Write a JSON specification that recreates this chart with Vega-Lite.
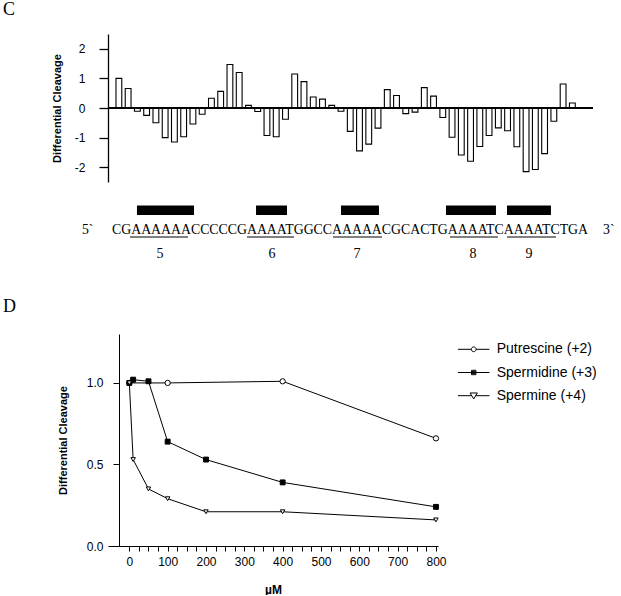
{
  "$schema": "https://vega.github.io/schema/vega-lite/v6.json",
  "background": "white",
  "padding": {"left": 3, "top": 1, "right": 0, "bottom": 0},
  "spacing": 18,
  "resolve": {
    "scale": {"shape": "independent", "fill": "independent", "size": "independent"},
    "legend": {"shape": "independent", "fill": "independent", "size": "independent"}
  },
  "config": {
    "view": {"stroke": null},
    "font": "Liberation Sans",
    "axis": {"domainColor": "black", "tickColor": "black", "labelColor": "black", "titleColor": "black", "grid": false, "labelFont": "Liberation Sans", "titleFont": "Liberation Sans", "labelOverlap": false},
    "title": {"color": "black"}
  },
  "datasets": {
    "cleavage": [
      {"pos": 1, "base": "C", "cleavage": 1.00}, {"pos": 2, "base": "G", "cleavage": 0.66},
      {"pos": 3, "base": "A", "cleavage": -0.11}, {"pos": 4, "base": "A", "cleavage": -0.25},
      {"pos": 5, "base": "A", "cleavage": -0.50}, {"pos": 6, "base": "A", "cleavage": -1.00},
      {"pos": 7, "base": "A", "cleavage": -1.15}, {"pos": 8, "base": "A", "cleavage": -0.97},
      {"pos": 9, "base": "C", "cleavage": -0.54}, {"pos": 10, "base": "C", "cleavage": -0.21},
      {"pos": 11, "base": "C", "cleavage": 0.33}, {"pos": 12, "base": "C", "cleavage": 0.56},
      {"pos": 13, "base": "C", "cleavage": 1.47}, {"pos": 14, "base": "G", "cleavage": 1.20},
      {"pos": 15, "base": "A", "cleavage": 0.09}, {"pos": 16, "base": "A", "cleavage": -0.12},
      {"pos": 17, "base": "A", "cleavage": -0.93}, {"pos": 18, "base": "A", "cleavage": -0.97},
      {"pos": 19, "base": "T", "cleavage": -0.38}, {"pos": 20, "base": "G", "cleavage": 1.15},
      {"pos": 21, "base": "G", "cleavage": 0.89}, {"pos": 22, "base": "C", "cleavage": 0.37},
      {"pos": 23, "base": "C", "cleavage": 0.30}, {"pos": 24, "base": "A", "cleavage": 0.09},
      {"pos": 25, "base": "A", "cleavage": -0.11}, {"pos": 26, "base": "A", "cleavage": -0.79},
      {"pos": 27, "base": "A", "cleavage": -1.45}, {"pos": 28, "base": "A", "cleavage": -1.22},
      {"pos": 29, "base": "C", "cleavage": -0.68}, {"pos": 30, "base": "G", "cleavage": 0.62},
      {"pos": 31, "base": "C", "cleavage": 0.42}, {"pos": 32, "base": "A", "cleavage": -0.19},
      {"pos": 33, "base": "C", "cleavage": -0.14}, {"pos": 34, "base": "T", "cleavage": 0.69},
      {"pos": 35, "base": "G", "cleavage": 0.40}, {"pos": 36, "base": "A", "cleavage": -0.32},
      {"pos": 37, "base": "A", "cleavage": -0.99}, {"pos": 38, "base": "A", "cleavage": -1.59},
      {"pos": 39, "base": "A", "cleavage": -1.80}, {"pos": 40, "base": "T", "cleavage": -1.30},
      {"pos": 41, "base": "C", "cleavage": -0.93}, {"pos": 42, "base": "A", "cleavage": -0.67},
      {"pos": 43, "base": "A", "cleavage": -0.77}, {"pos": 44, "base": "A", "cleavage": -1.31},
      {"pos": 45, "base": "A", "cleavage": -2.15}, {"pos": 46, "base": "T", "cleavage": -2.08},
      {"pos": 47, "base": "C", "cleavage": -1.54}, {"pos": 48, "base": "T", "cleavage": -0.45},
      {"pos": 49, "base": "G", "cleavage": 0.81}, {"pos": 50, "base": "A", "cleavage": 0.17}
    ],
    "motifs": [
      {"motif": "5", "box_start": 3.43, "box_end": 9.47, "line_start": 2.69, "line_end": 8.83, "label_at": 5.87},
      {"motif": "6", "box_start": 16.03, "box_end": 19.31, "line_start": 15.07, "line_end": 20.05, "label_at": 17.72},
      {"motif": "7", "box_start": 25.02, "box_end": 29.04, "line_start": 24.17, "line_end": 29.36, "label_at": 26.71},
      {"motif": "8", "box_start": 36.13, "box_end": 41.42, "line_start": 36.56, "line_end": 41.63, "label_at": 38.99},
      {"motif": "9", "box_start": 42.59, "box_end": 47.24, "line_start": 42.59, "line_end": 47.77, "label_at": 44.92}
    ],
    "sequence": [
      {"text": "5`", "at": -2.39},
      {"text": "CGAAAAAACCCCCGAAAATGGCCAAAAACGCACTGAAAATCAAAATCTGA", "at": 0.788},
      {"text": "3`", "at": 52.75}
    ],
    "polyamines": [
      {"series": "Putrescine (+2)", "conc": 0, "cleavage": 1.00},
      {"series": "Putrescine (+2)", "conc": 100, "cleavage": 1.00},
      {"series": "Putrescine (+2)", "conc": 400, "cleavage": 1.01},
      {"series": "Putrescine (+2)", "conc": 800, "cleavage": 0.66},
      {"series": "Spermidine (+3)", "conc": 0, "cleavage": 1.00},
      {"series": "Spermidine (+3)", "conc": 10, "cleavage": 1.02},
      {"series": "Spermidine (+3)", "conc": 50, "cleavage": 1.01},
      {"series": "Spermidine (+3)", "conc": 100, "cleavage": 0.64},
      {"series": "Spermidine (+3)", "conc": 200, "cleavage": 0.53},
      {"series": "Spermidine (+3)", "conc": 400, "cleavage": 0.39},
      {"series": "Spermidine (+3)", "conc": 800, "cleavage": 0.24},
      {"series": "Spermine (+4)", "conc": 0, "cleavage": 1.00},
      {"series": "Spermine (+4)", "conc": 10, "cleavage": 0.53},
      {"series": "Spermine (+4)", "conc": 50, "cleavage": 0.35},
      {"series": "Spermine (+4)", "conc": 100, "cleavage": 0.29},
      {"series": "Spermine (+4)", "conc": 200, "cleavage": 0.21},
      {"series": "Spermine (+4)", "conc": 400, "cleavage": 0.21},
      {"series": "Spermine (+4)", "conc": 800, "cleavage": 0.16}
    ]
  },
  "vconcat": [
    {
      "title": {"text": "C", "anchor": "start", "frame": "group", "font": "Liberation Serif", "fontSize": 18, "fontWeight": "normal", "dx": -105, "offset": 15},
      "width": 485,
      "height": 148,
      "data": {"name": "cleavage"},
      "encoding": {
        "y": {"field": "cleavage", "type": "quantitative", "scale": {"domain": [-2.5, 2.5], "nice": false},
          "axis": {"title": "Differential Cleavage", "values": [-2, -1, 0, 1, 2], "labelExpr": "toString(datum.value)", "labelOverlap": false, "tickSize": 9, "labelPadding": 14, "labelFontSize": 12, "titleFontSize": 11, "titleFontWeight": "bold", "titlePadding": 12, "domainWidth": 1.3, "tickWidth": 1.3}}
      },
      "layer": [
        {
          "mark": {"type": "bar", "width": 5.8, "fill": "white", "stroke": "black", "strokeWidth": 1.1},
          "encoding": {
            "x": {"field": "pos", "type": "quantitative", "scale": {"domain": [0.365, 51.69], "nice": false, "zero": false}, "axis": null}
          }
        },
        {
          "mark": {"type": "rule", "stroke": "black", "strokeWidth": 1.4},
          "encoding": {
            "y": {"datum": 0, "type": "quantitative", "scale": {"domain": [-2.5, 2.5], "nice": false},
              "axis": {"title": "Differential Cleavage", "values": [-2, -1, 0, 1, 2], "labelExpr": "toString(datum.value)", "labelOverlap": false, "tickSize": 9, "labelPadding": 14, "labelFontSize": 12, "titleFontSize": 11, "titleFontWeight": "bold", "titlePadding": 12, "domainWidth": 1.3, "tickWidth": 1.3}}
          }
        }
      ]
    },
    {
      "width": 485,
      "height": 80,
      "data": {"name": "motifs"},
      "layer": [
        {
          "mark": {"type": "rect", "fill": "black"},
          "encoding": {
            "x": {"field": "box_start", "type": "quantitative", "scale": {"domain": [0.365, 51.69], "nice": false, "zero": false}, "axis": null},
            "x2": {"field": "box_end"},
            "y": {"datum": 74.5, "type": "quantitative", "scale": {"domain": [0, 80], "nice": false, "zero": false}, "axis": null},
            "y2": {"datum": 65}
          }
        },
        {
          "mark": {"type": "rule", "stroke": "black", "strokeWidth": 1},
          "encoding": {
            "x": {"field": "line_start", "type": "quantitative"},
            "x2": {"field": "line_end"},
            "y": {"datum": 43, "type": "quantitative"}
          }
        },
        {
          "mark": {"type": "text", "font": "Liberation Serif", "fontSize": 14, "align": "center", "baseline": "alphabetic", "color": "black"},
          "encoding": {
            "x": {"field": "label_at", "type": "quantitative"},
            "y": {"datum": 21.7, "type": "quantitative"},
            "text": {"field": "motif"}
          }
        },
        {
          "data": {"name": "sequence"},
          "mark": {"type": "text", "font": "Liberation Serif", "fontSize": 13.8, "align": "left", "baseline": "alphabetic", "color": "black"},
          "encoding": {
            "x": {"field": "at", "type": "quantitative"},
            "y": {"datum": 46, "type": "quantitative"},
            "text": {"field": "text"}
          }
        }
      ]
    },
    {
      "title": {"text": "D", "anchor": "start", "frame": "group", "font": "Liberation Serif", "fontSize": 18, "fontWeight": "normal", "dx": -105, "offset": 18},
      "width": 330,
      "height": 212,
      "data": {"name": "polyamines"},
      "resolve": {"scale": {"shape": "independent", "fill": "independent", "size": "independent"}},
      "encoding": {
        "x": {"field": "conc", "type": "quantitative", "scale": {"domain": [-55.6, 805.3], "nice": false, "zero": false},
          "axis": {"title": "µM", "values": [0, 25, 50, 75, 100, 125, 150, 175, 200, 225, 250, 275, 300, 325, 350, 375, 400, 425, 450, 475, 500, 525, 550, 575, 600, 625, 650, 675, 700, 725, 750, 775, 800],
            "labelExpr": "datum.value % 100 === 0 ? datum.label : ''", "labelOverlap": false, "labelFlush": false, "tickSize": 5, "labelPadding": 5, "labelFontSize": 12, "titleFontSize": 12, "titleFontWeight": "bold", "titlePadding": 17}},
        "y": {"field": "cleavage", "type": "quantitative", "scale": {"domain": [0, 1.3], "nice": false},
          "axis": {"title": "Differential Cleavage", "values": [0, 0.5, 1], "format": ".1f", "offset": -11, "tickSize": 6, "labelPadding": 10, "labelFontSize": 12, "titleFontSize": 11, "titleFontWeight": "bold", "titlePadding": 18}}
      },
      "layer": [
        {
          "mark": {"type": "line", "stroke": "black", "strokeWidth": 1},
          "encoding": {"detail": {"field": "series"}}
        },
        {
          "mark": {"type": "point", "filled": true, "stroke": "black", "strokeWidth": 1, "opacity": 1},
          "encoding": {
            "shape": {"field": "series", "type": "nominal", "scale": {"domain": ["Putrescine (+2)", "Spermidine (+3)", "Spermine (+4)"], "range": ["circle", "square", "triangle-down"]}, "legend": null},
            "fill": {"field": "series", "type": "nominal", "scale": {"domain": ["Putrescine (+2)", "Spermidine (+3)", "Spermine (+4)"], "range": ["white", "black", "white"]}, "legend": null},
            "size": {"field": "series", "type": "nominal", "scale": {"domain": ["Putrescine (+2)", "Spermidine (+3)", "Spermine (+4)"], "range": [28, 20, 80]}, "legend": null}
          }
        },
        {
          "transform": [{"filter": "datum.conc < 0"}],
          "mark": {"type": "point", "filled": false, "stroke": "black", "strokeWidth": 1, "size": 256, "opacity": 1},
          "encoding": {
            "shape": {"field": "series", "type": "nominal",
              "scale": {"domain": ["Putrescine (+2)", "Spermidine (+3)", "Spermine (+4)"],
                "range": [
                  "M-1.975,0H-0.3M0.3,0H1.975M0.3,0A0.3,0.3,0,1,1,-0.3,0A0.3,0.3,0,1,1,0.3,0Z",
                  "M-1.975,0H1.975M-0.275,-0.275H0.275V0.275H-0.275ZM-0.275,-0.14H0.275M-0.275,0.14H0.275",
                  "M-1.975,0H-0.25M0.25,0H1.975M-0.456,-0.34H0.456L0,0.41Z"
                ]},
              "legend": {"title": null, "orient": "none", "legendX": 357.2, "legendY": 6.8, "padding": 0, "labelFont": "Liberation Sans", "labelFontSize": 14, "labelColor": "black", "labelOffset": 14.5, "rowPadding": 7.2, "symbolSize": 256, "symbolStrokeColor": "black", "symbolStrokeWidth": 1, "symbolOpacity": 1,
                "encode": {"symbols": {"update": {"stroke": {"value": "black"}, "strokeWidth": {"value": 1}, "fill": {"value": "white"}, "opacity": {"value": 1}, "size": {"value": 256}}}}}}
          }
        }
      ]
    }
  ]
}
